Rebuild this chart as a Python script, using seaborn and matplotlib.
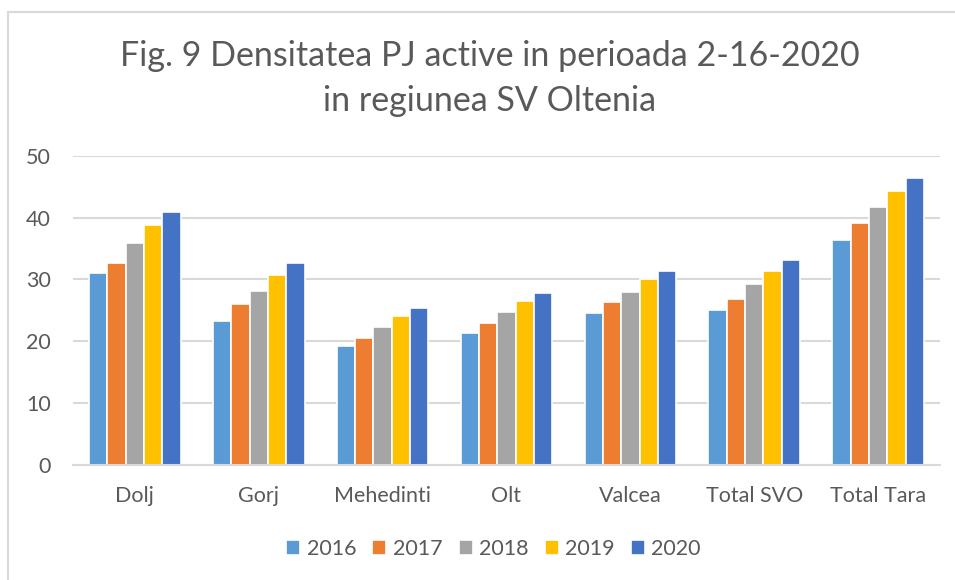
import matplotlib
matplotlib.use("Agg")
import matplotlib.pyplot as plt
import seaborn as sns
import pandas as pd
from matplotlib.patches import Rectangle

categories = ["Dolj", "Gorj", "Mehedinti", "Olt", "Valcea", "Total SVO", "Total Tara"]
years = ["2016", "2017", "2018", "2019", "2020"]
v2016 = [31.0, 23.2, 19.3, 21.3, 24.5, 25.1, 36.4]
v2017 = [32.7, 26.0, 20.5, 22.9, 26.3, 26.8, 39.1]
v2018 = [35.9, 28.2, 22.3, 24.8, 28.0, 29.2, 41.8]
v2019 = [38.8, 30.7, 24.1, 26.5, 30.0, 31.4, 44.4]
v2020 = [40.9, 32.7, 25.4, 27.8, 31.3, 33.2, 46.5]
colors = ["#5B9BD5", "#ED7D31", "#A5A5A5", "#FFC000", "#4472C4"]

rows = []
for y, vals in zip(years, [v2016, v2017, v2018, v2019, v2020]):
    for c, v in zip(categories, vals):
        rows.append({"cat": c, "year": y, "val": v})
df = pd.DataFrame(rows)

sns.set_theme(style="white")
plt.rcParams['font.family'] = ['Lato', 'DejaVu Sans']

fig = plt.figure(figsize=(9.55, 5.8), dpi=100)
fig.patch.set_facecolor("white")
ax = fig.add_axes([73/955, 1-464.7/580, (940-73)/955, (464.7-156)/580])

sns.barplot(data=df, x="cat", y="val", hue="year", palette=colors, ax=ax,
            width=0.74, gap=0.0, edgecolor="white", linewidth=1.2, saturation=1,
            legend=True)

ax.set_ylim(0, 50)
ax.set_yticks(range(0, 51, 10))
ax.set_xlim(-0.5, 6.5)
ax.grid(axis="y", color="#D9D9D9", linewidth=1.5)
ax.set_axisbelow(True)
for s in ["top", "right", "left"]:
    ax.spines[s].set_visible(False)
ax.spines["bottom"].set_color("#D9D9D9")
ax.spines["bottom"].set_linewidth(1.5)
ax.set_xlabel("")
ax.set_ylabel("")
ax.tick_params(axis="both", length=0, labelsize=15.5, labelcolor="#595959")
ax.tick_params(axis="y", pad=16)
ax.tick_params(axis="x", pad=15)

leg = ax.legend(loc="center", bbox_to_anchor=(0.485, (464.7-549)/(464.7-156)),
                ncol=5, frameon=False, fontsize=15.5, handlelength=0.65, handleheight=0.65,
                columnspacing=0.75, handletextpad=0.3)
for t in leg.get_texts():
    t.set_color("#595959")

fig.text(0.513, 1-56/580, "Fig. 9 Densitatea PJ active in perioada 2-16-2020",
         ha="center", va="center", fontsize=24.5, color="#595959")
fig.text(0.513, 1-101/580, "in regiunea SV Oltenia",
         ha="center", va="center", fontsize=24.5, color="#595959")

fig.add_artist(Rectangle((8/955, -0.1), 1.2, 1 - 12/580 + 0.1, transform=fig.transFigure,
                         fill=False, edgecolor="#D9D9D9", linewidth=1.5))

fig.savefig("out.png", dpi=100)
